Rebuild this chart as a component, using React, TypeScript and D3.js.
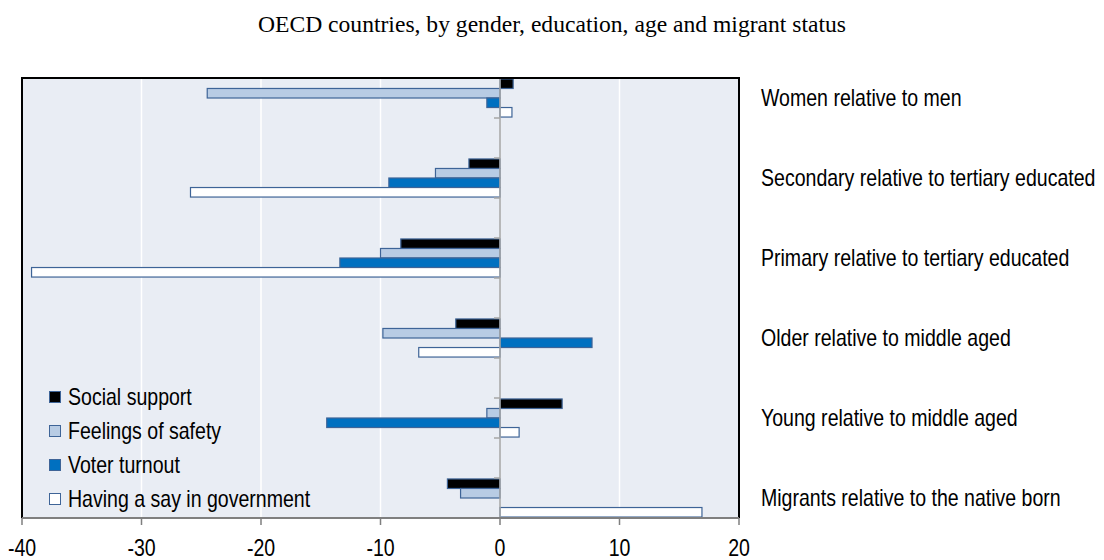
import React, { useEffect } from 'react';
import * as d3 from 'd3';

const categories = [
  'Women relative to men',
  'Secondary relative to tertiary educated',
  'Primary relative to tertiary educated',
  'Older relative to middle aged',
  'Young relative to middle aged',
  'Migrants relative to the native born',
];

const seriesNames = ['Social support', 'Feelings of safety', 'Voter turnout', 'Having a say in government'];

const socialSupport = [1.1, -2.6, -8.3, -3.7, 5.2, -4.4];
const feelingsOfSafety = [-24.5, -5.4, -10.0, -9.8, -1.1, -3.3];
const voterTurnout = [-1.1, -9.3, -13.4, 7.7, -14.5, 0];
const havingASay = [1.0, -25.9, -39.2, -6.8, 1.6, 16.9];

const xTicks = [-40, -30, -20, -10, 0, 10, 20];

const COLORS = ['#000000', '#B8CCE4', '#0070C0', '#FFFFFF'];
const STROKE = '#3E6497';
const FONT = '"Liberation Sans", Arial, sans-serif';
const SQUEEZE = 0.85; // narrow look of the original label font

// text helper: compressed horizontally around its anchor point
function NarrowText({ x, y, anchor = 'start', size = 23, children }: any) {
  return (
    <text
      transform={`translate(${x},${y}) scale(${SQUEEZE},1)`}
      textAnchor={anchor}
      dy="0.35em"
      fontFamily={FONT}
      fontSize={size}
      fill="#000"
    >
      {children}
    </text>
  );
}

export default function App() {
  useEffect(() => {
    document.body.style.margin = '0';
  }, []);

  const W = 1104;
  const H = 560;
  const MARGIN = { top: 78, left: 22, right: 739, bottom: 518 };

  const series = [socialSupport, feelingsOfSafety, voterTurnout, havingASay];

  const xScale = d3.scaleLinear().domain([-40, 20]).range([MARGIN.left, MARGIN.right]);

  // 11 slots: data categories in even slots, blank slots between
  const slots = d3.range(categories.length * 2 - 1);
  const yScale = d3.scaleBand<number>().domain(slots).range([MARGIN.top, MARGIN.bottom]);
  const inner = d3
    .scaleBand<number>()
    .domain(d3.range(series.length))
    .range([0, yScale.bandwidth()])
    .paddingOuter(0.1);

  const zero = xScale(0);

  return (
    <svg width={W} height={H} style={{ position: 'absolute', left: 0, top: 0 }}>
      <text
        x={552}
        y={32}
        textAnchor="middle"
        fontFamily='"Liberation Serif", "Times New Roman", serif'
        fontSize={23.6}
        fill="#000"
      >
        OECD countries, by gender, education, age and migrant status
      </text>

      <rect
        x={MARGIN.left}
        y={MARGIN.top}
        width={MARGIN.right - MARGIN.left}
        height={MARGIN.bottom - MARGIN.top}
        fill="#E9EDF4"
      />

      {xTicks
        .filter((t) => t !== 0 && t !== -40 && t !== 20)
        .map((t) => (
          <line key={t} x1={xScale(t)} x2={xScale(t)} y1={MARGIN.top} y2={MARGIN.bottom} stroke="#fff" strokeWidth={1.5} />
        ))}

      {categories.map((c, ci) =>
        series.map((s, si) => {
          const v = s[ci];
          if (v === 0) return null;
          const y0 = (yScale(ci * 2) ?? 0) + (inner(si) ?? 0);
          const x0 = Math.min(xScale(v), zero);
          return (
            <rect
              key={`${ci}-${si}`}
              x={x0}
              y={y0}
              width={Math.abs(xScale(v) - zero)}
              height={inner.bandwidth()}
              fill={COLORS[si]}
              stroke={STROKE}
              strokeWidth={1.2}
            />
          );
        })
      )}

      {/* zero line with category ticks */}
      <line x1={zero} x2={zero} y1={MARGIN.top} y2={MARGIN.bottom} stroke="#A6A6A6" strokeWidth={1.5} />
      {slots.concat([slots.length]).map((s) => {
        const y = s < slots.length ? yScale(s) ?? 0 : MARGIN.bottom;
        return <line key={s} x1={zero - 6} x2={zero} y1={y} y2={y} stroke="#A6A6A6" strokeWidth={1.5} />;
      })}

      {/* frame */}
      <path
        d={`M${MARGIN.left},${MARGIN.bottom}V${MARGIN.top}H${MARGIN.right}V${MARGIN.bottom}`}
        fill="none"
        stroke="#000"
        strokeWidth={2}
      />
      <line x1={MARGIN.left} x2={MARGIN.right} y1={MARGIN.bottom} y2={MARGIN.bottom} stroke="#7F7F7F" strokeWidth={2} />

      {xTicks.map((t) => (
        <g key={t}>
          <line x1={xScale(t)} x2={xScale(t)} y1={MARGIN.bottom} y2={MARGIN.bottom + 7} stroke="#7F7F7F" strokeWidth={1.5} />
          <NarrowText x={xScale(t)} y={548} anchor="middle">
            {t}
          </NarrowText>
        </g>
      ))}

      {categories.map((c, ci) => (
        <NarrowText key={c} x={761} y={(yScale(ci * 2) ?? 0) + yScale.bandwidth() / 2}>
          {c}
        </NarrowText>
      ))}

      {seriesNames.map((n, i) => (
        <g key={n} transform={`translate(49, ${397 + i * 34})`}>
          <rect x={0.5} y={-5.5} width={11} height={11} fill={COLORS[i]} stroke={STROKE} strokeWidth={1} />
          <NarrowText x={19} y={0}>
            {n}
          </NarrowText>
        </g>
      ))}
    </svg>
  );
}
